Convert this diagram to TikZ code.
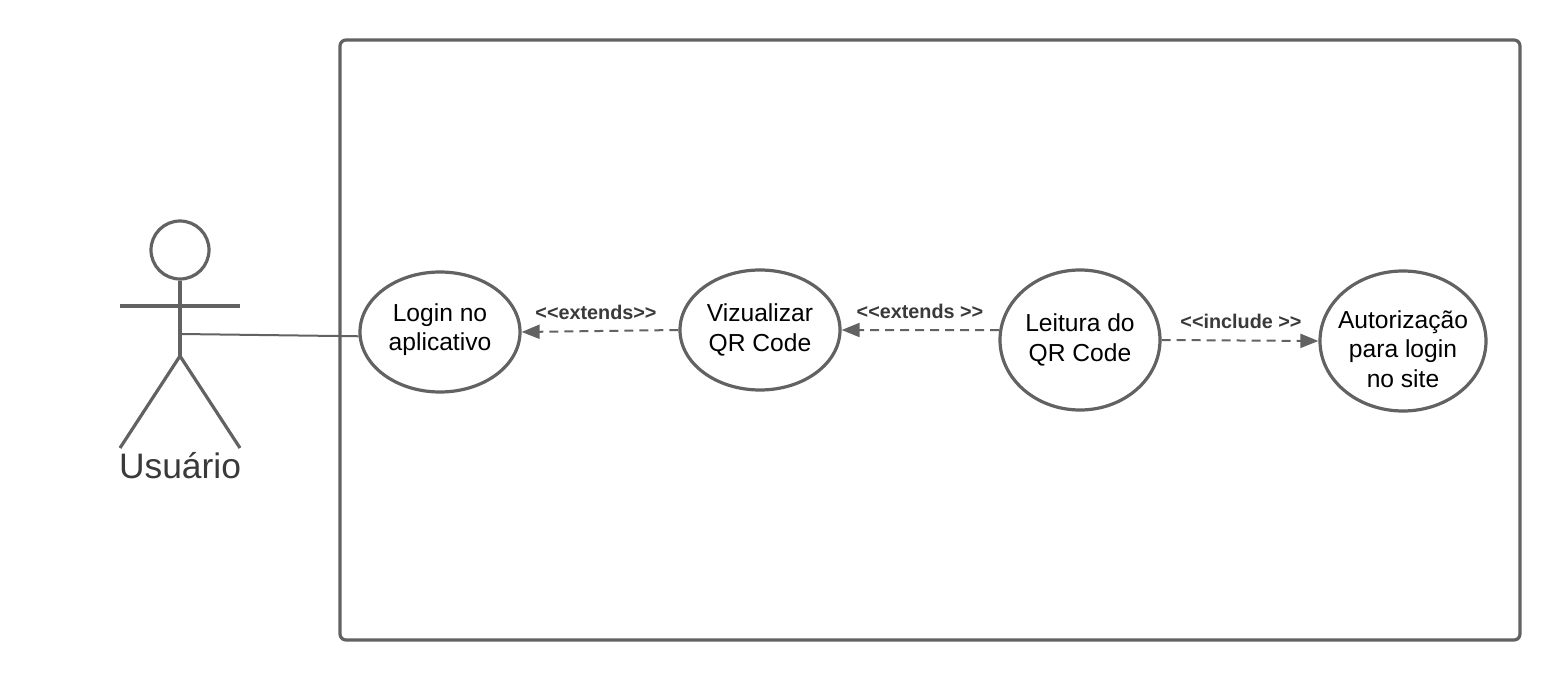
\documentclass[tikz,border=0pt]{standalone}
\usepackage{fontspec}
\setmainfont{Liberation Sans}
\usetikzlibrary{arrows.meta,shapes.geometric}
\definecolor{colline}{RGB}{98,98,98}
\definecolor{coltext}{RGB}{58,58,58}
\tikzset{
  usecase/.style={
    ellipse,
    draw=colline,
    line width=1.6pt,
    fill=white,
    align=center,
    inner xsep=-5pt,
    inner ysep=-4pt,
    font=\fontsize{12.3}{14.6}\selectfont
  },
  stereotype/.style={
    text=coltext,
    inner sep=0pt,
    font=\fontsize{9.9}{11}\selectfont\bfseries
  },
  limb/.style={colline, line width=1.6pt},
  dep/.style={
    colline,
    line width=1pt,
    dash pattern=on 4.5pt off 3pt,
    -{Triangle[length=9pt,width=7pt]}
  }
}
\newcommand{\stereo}[1]{<{}<#1>{}>}

\begin{document}
\begin{tikzpicture}[x=0.5pt,y=-0.5pt]
  \useasboundingbox (0,0) rectangle (1560,680);

  % system boundary
  \node[draw=colline, line width=1.6pt, rounded corners=3pt, minimum width=590pt,
    minimum height=300pt, inner sep=0pt] (system) at (930,340) {};

  % the actor
  \node[circle, draw=colline, line width=1.6pt, minimum size=29pt, inner sep=0pt]
    (head) at (180,250) {};
  \coordinate (hip) at (180,356);
  \coordinate (hand) at (181,334);
  \draw[limb] (head.south) -- (hip);
  \draw[limb] (120,306) -- (240,306);
  \draw[limb] (120,448) -- (hip) -- (240,448);
  \node[text=coltext, inner sep=0pt, font=\fontsize{17.7}{20}\selectfont]
    (actor) at (180,466) {Usuário};

  % use cases
  \node[usecase, minimum width=80pt, minimum height=60pt] (login) at (440,332)
    {Login no\\aplicativo\rule[-5pt]{0pt}{5pt}};
  \node[usecase, minimum width=80pt, minimum height=60pt] (view) at (760,330)
    {Vizualizar\\QR Code};
  \node[usecase, minimum width=80pt, minimum height=70pt] (read) at (1080,340)
    {Leitura do\\QR Code};
  \node[usecase, minimum width=83pt, minimum height=70pt] (auth) at (1403,341)
    {\rule{0pt}{17pt}Autorização\\para login\\no site};

  % connectors
  \draw[colline, line width=1pt] (hand) -- (login.183);
  \draw[dep] (view.west) -- (login.east);
  \draw[dep] (read.173) -- (view.east);
  \draw[dep] (read.east) -- (auth.west);

  % the labels
  \node[stereotype] (extendone) at (596,312) {\stereo{extends}};
  \node[stereotype] (extendtwo) at (920,311) {\stereo{extends }};
  \node[stereotype] (includeone) at (1241,321) {\stereo{include }};
\end{tikzpicture}
\end{document}
